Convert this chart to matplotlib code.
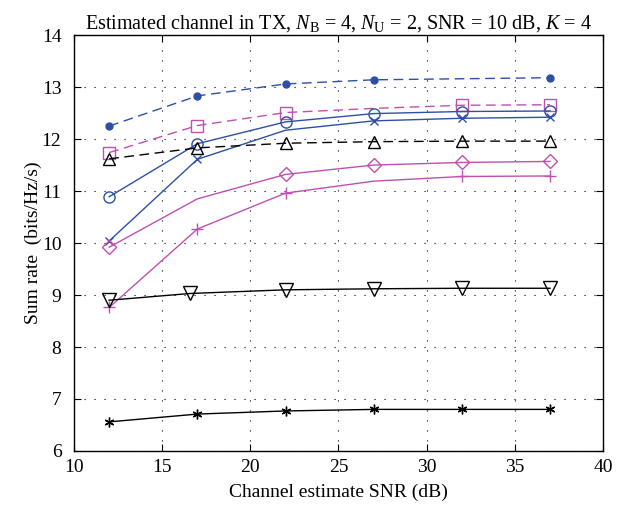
import matplotlib
matplotlib.use("Agg")
import matplotlib.pyplot as plt

plt.rcParams["font.family"] = ["Liberation Serif", "DejaVu Serif"]
plt.rcParams["mathtext.fontset"] = "custom"
plt.rcParams["mathtext.rm"] = "Liberation Serif"
plt.rcParams["mathtext.it"] = "Liberation Serif:italic"

# данные
snr = [12, 17, 22, 27, 32, 37]
snr_tri_down = [12, 16.6, 22, 27, 32, 37]

rate_dot = [12.25, 12.83, 13.06, 13.14, 13.16, 13.18]
rate_square = [11.74, 12.26, 12.51, 12.59, 12.65, 12.66]
rate_circle = [10.89, 11.91, 12.33, 12.49, 12.53, 12.54]
rate_x = [10.04, 11.61, 12.17, 12.35, 12.40, 12.42]
rate_tri_up = [11.62, 11.83, 11.92, 11.95, 11.96, 11.96]
rate_diamond = [9.92, 10.85, 11.32, 11.50, 11.55, 11.57]
rate_plus = [8.76, 10.27, 10.96, 11.19, 11.28, 11.29]
rate_tri_down = [8.90, 9.03, 9.10, 9.12, 9.13, 9.13]
rate_star = [6.56, 6.71, 6.77, 6.80, 6.80, 6.80]

blue = "#2e4fa6"
pink = "#c050b0"
dash = (0, (7, 4))

fig = plt.figure(figsize=(6.21, 5.16), dpi=100)
ax = fig.add_axes([0.119, 0.126, 0.852, 0.806])

ax.plot(snr, rate_dot, color=blue, ls=dash, lw=1, marker="o", ms=5,
        markevery=[0, 1, 2, 3, 5])
ax.plot(snr, rate_square, color=pink, ls=dash, lw=1, marker="s", ms=8,
        mfc="none", markevery=[0, 1, 2, 4, 5])
ax.plot(snr, rate_circle, color=blue, lw=1, marker="o", ms=8, mfc="none")
ax.plot(snr, rate_x, color=blue, lw=1, marker="x", ms=6,
        markevery=[0, 1, 3, 4, 5])
ax.plot(snr, rate_tri_up, color="black", ls=dash, lw=1, marker="^", ms=9,
        mfc="none")
ax.plot(snr, rate_diamond, color=pink, lw=1, marker="D", ms=7, mfc="none",
        markevery=[0, 2, 3, 4, 5])
ax.plot(snr, rate_plus, color=pink, lw=1, marker="+", ms=9,
        markevery=[0, 1, 2, 4, 5])
ax.plot(snr_tri_down, rate_tri_down, color="black", lw=1, marker="v", ms=10,
        mfc="none")
ax.plot(snr, rate_star, color="black", lw=1, marker=(6, 2, 0), ms=7)

ax.set_xlim(10, 40)
ax.set_ylim(6, 14)
ax.set_xticks(range(10, 41, 5))
ax.set_yticks(range(6, 15))
ax.grid(True, color="black", ls=(0, (1, 8)), lw=0.8)
ax.tick_params(direction="in", top=True, right=True, labelsize=14, length=5)
ax.tick_params(axis="y", pad=9)
ax.tick_params(axis="x", pad=6)
for s in ax.spines.values():
    s.set_linewidth(1)

ax.set_xlabel("Channel estimate SNR (dB)", fontsize=14, labelpad=5)
ax.set_ylabel("Sum rate  (bits/Hz/s)", fontsize=14, labelpad=0)
ax.set_title(r"Estimated channel in TX, $N_\mathrm{B}$ = 4, $N_\mathrm{U}$ = 2, SNR = 10 dB, $K$ = 4",
             fontsize=14.5, pad=5)

fig.savefig("out.png", dpi=100)
